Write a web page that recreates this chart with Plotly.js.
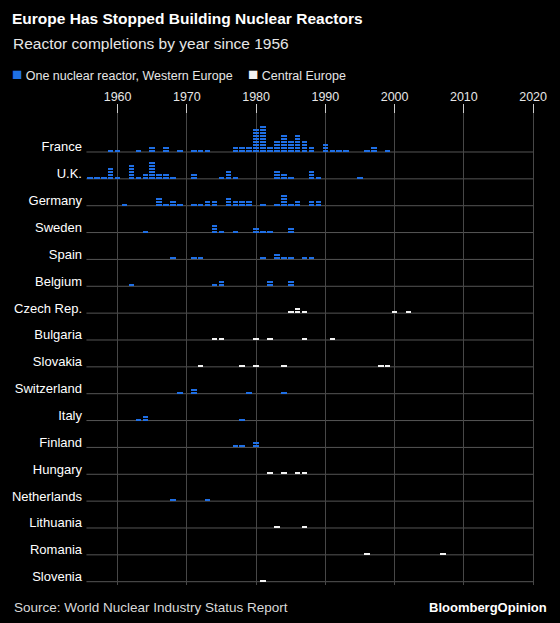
<!DOCTYPE html>
<html><head><meta charset="utf-8">
<script src="https://cdn.plot.ly/plotly-3.0.1.min.js"></script>
<style>html,body{margin:0;padding:0;background:#000;} #chart{width:560px;height:623px;}</style>
</head><body><div id="chart"></div>
<script>
// ---- data ----
const countries = ["France","U.K.","Germany","Sweden","Spain","Belgium","Czech Rep.","Bulgaria","Slovakia","Switzerland","Italy","Finland","Hungary","Netherlands","Lithuania","Romania","Slovenia"];
const regions = ["west","west","west","west","west","west","central","central","central","west","west","west","central","west","central","central","central"];

const franceYears = [1959,1960,1963,1965,1967,1969,1971,1972,1973,1977,1978,1979,1980,1981,1982,1983,1984,1985,1986,1987,1988,1990,1991,1992,1993,1996,1997,1999];
const franceCounts = [1,1,1,2,2,1,1,1,1,2,2,2,8,9,2,4,6,4,6,4,2,3,1,1,1,1,2,1];
const ukYears = [1956,1957,1958,1959,1960,1962,1963,1964,1965,1966,1967,1968,1971,1975,1976,1977,1983,1984,1985,1988,1989,1995];
const ukCounts = [1,1,1,4,1,5,1,2,6,2,2,1,2,1,3,1,3,2,1,3,1,1];
const germanyYears = [1961,1966,1967,1968,1969,1971,1972,1973,1974,1976,1977,1978,1979,1981,1983,1984,1985,1986,1988,1989];
const germanyCounts = [1,3,1,2,1,1,1,2,2,3,2,2,2,1,1,4,1,2,2,2];
const swedenYears = [1964,1974,1975,1977,1980,1981,1982,1985];
const swedenCounts = [1,3,1,1,2,1,1,2];
const spainYears = [1968,1971,1972,1981,1983,1984,1985,1987,1988];
const spainCounts = [1,1,1,1,2,1,1,1,1];
const belgiumYears = [1962,1974,1975,1982,1985];
const belgiumCounts = [1,1,2,2,2];
const czechYears = [1985,1986,1987,2000,2002];
const czechCounts = [1,2,1,1,1];
const bulgariaYears = [1974,1975,1980,1982,1987,1991];
const bulgariaCounts = [1,1,1,1,1,1];
const slovakiaYears = [1972,1978,1980,1984,1998,1999];
const slovakiaCounts = [1,1,1,1,1,1];
const switzerlandYears = [1969,1971,1979,1984];
const switzerlandCounts = [1,2,1,1];
const italyYears = [1963,1964,1978];
const italyCounts = [1,2,1];
const finlandYears = [1977,1978,1980];
const finlandCounts = [1,1,2];
const hungaryYears = [1982,1984,1986,1987];
const hungaryCounts = [1,1,1,1];
const netherlandsYears = [1968,1973];
const netherlandsCounts = [1,1];
const lithuaniaYears = [1983,1987];
const lithuaniaCounts = [1,1];
const romaniaYears = [1996,2007];
const romaniaCounts = [1,1];
const sloveniaYears = [1981];
const sloveniaCounts = [1];

const tickYears = [1960,1970,1980,1990,2000,2010,2020];

const allYears = [franceYears,ukYears,germanyYears,swedenYears,spainYears,belgiumYears,czechYears,bulgariaYears,slovakiaYears,switzerlandYears,italyYears,finlandYears,hungaryYears,netherlandsYears,lithuaniaYears,romaniaYears,sloveniaYears];
const allCounts = [franceCounts,ukCounts,germanyCounts,swedenCounts,spainCounts,belgiumCounts,czechCounts,bulgariaCounts,slovakiaCounts,switzerlandCounts,italyCounts,finlandCounts,hungaryCounts,netherlandsCounts,lithuaniaCounts,romaniaCounts,sloveniaCounts];

// ---- layout geometry ----
const PL = 83, PW = 457, PT = 104, PH = 481;
const Y_TOP = 48/26.86, Y_BOT = -16 - 3.3/26.86;
const PX_PER_UNIT = PH / (Y_TOP - Y_BOT);

// ---- build ----
const BLUE = "#1f6fe5", WHITE = "#f2f2f2";
const FONT = "Liberation Sans, Arial, sans-serif";
const BLOCK_PITCH = 3 / PX_PER_UNIT, BLOCK_H = 2 / PX_PER_UNIT;
const west = {x:[], y:[], base:[]}, central = {x:[], y:[], base:[]};
const rowY = countries.map((c,i) => -i);
countries.forEach((c,i) => {
  const tgt = regions[i] === "west" ? west : central;
  allYears[i].forEach((yr,j) => {
    for (let k = 0; k < allCounts[i][j]; k++) {
      tgt.x.push(yr); tgt.base.push(rowY[i] + k*BLOCK_PITCH); tgt.y.push(BLOCK_H);
    }
  });
});

const mk = (d, color, name) => ({
  type: "bar", x: d.x, y: d.y, base: d.base, width: 0.8, name: name,
  marker: {color: color, opacity: 0.999, line: {width: 0}}, hoverinfo: "skip", showlegend: false
});

const shapes = rowY.map(r => ({
  type: "line", xref: "x", yref: "y", x0: 1955.5, x1: 2020, y0: r, y1: r,
  line: {color: "#555", width: 1}, layer: "below"
}));

const px = v => (v - PL) / PW;
const py = v => (PT + PH - v) / PH;

const sq = c => '<span style="color:' + c + ';font-size:17px">■</span>';
const annotations = [
  {text: "Reactor completions by year since 1956", xref: "paper", yref: "paper", x: px(11), y: py(43), xanchor: "left", yanchor: "middle", showarrow: false, font: {family: FONT, size: 15.5, color: "#e6e6e6"}},
  {text: sq(BLUE) + ' One nuclear reactor, Western Europe', xref: "paper", yref: "paper", x: px(10), y: py(74), xanchor: "left", yanchor: "middle", showarrow: false, font: {family: FONT, size: 12.5, color: "#e6e6e6"}},
  {text: sq(WHITE) + ' Central Europe', xref: "paper", yref: "paper", x: px(246), y: py(74), xanchor: "left", yanchor: "middle", showarrow: false, font: {family: FONT, size: 12.5, color: "#e6e6e6"}},
  {text: "Source: World Nuclear Industry Status Report", xref: "paper", yref: "paper", x: px(12), y: py(607), xanchor: "left", yanchor: "middle", showarrow: false, font: {family: FONT, size: 13.5, color: "#d9d9d9"}},
  {text: "<b>BloombergOpinion</b>", xref: "paper", yref: "paper", x: px(549), y: py(607), xanchor: "right", yanchor: "middle", showarrow: false, font: {family: FONT, size: 13, color: "#ffffff"}}
];

const layout = {
  width: 560, height: 623,
  paper_bgcolor: "#000", plot_bgcolor: "#000",
  margin: {l: PL, r: 560 - PL - PW, t: PT, b: 623 - PT - PH, pad: 0},
  barmode: "overlay", bargap: 0, bargroupgap: 0,
  title: {text: "<b>Europe Has Stopped Building Nuclear Reactors</b>", xref: "container", yref: "container", x: 12/560, xanchor: "left", y: 1 - 19/623, yanchor: "middle", font: {family: FONT, size: 15.5, color: "#ffffff"}},
  xaxis: {range: [1955, 2021], side: "top", tickmode: "array", tickvals: tickYears, ticktext: tickYears.map(String),
    ticks: "inside", ticklen: 9, tickcolor: "#cccccc", tickwidth: 1,
    showgrid: true, gridcolor: "#474747", gridwidth: 1, zeroline: false, showline: false,
    tickfont: {family: FONT, size: 12.5, color: "#e6e6e6"}, fixedrange: true},
  yaxis: {range: [Y_BOT, Y_TOP], tickmode: "array", tickvals: rowY.map(r => r + 0.19), ticktext: countries,
    ticks: "", showgrid: false, zeroline: false, showline: false,
    tickfont: {family: FONT, size: 13, color: "#ffffff"}, fixedrange: true},
  shapes: shapes,
  annotations: annotations,
  font: {family: FONT, color: "#fff"}
};

Plotly.newPlot("chart", [mk(west, BLUE, "One nuclear reactor, Western Europe"), mk(central, WHITE, "Central Europe")], layout, {displayModeBar: false, responsive: false});
</script>
</body></html>
